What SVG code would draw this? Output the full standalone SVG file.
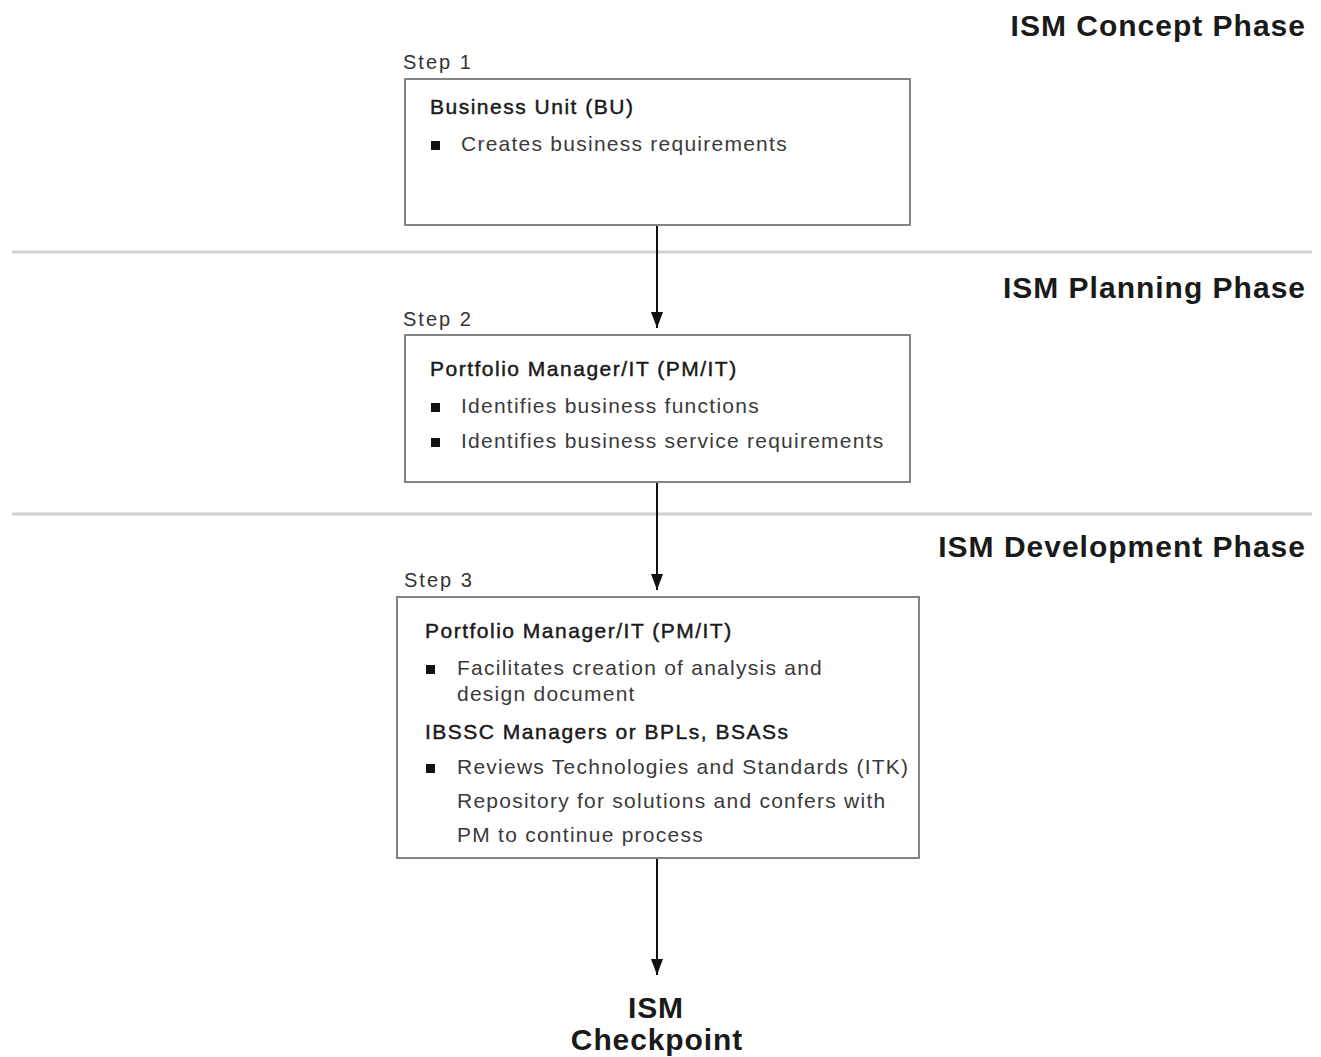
<svg xmlns="http://www.w3.org/2000/svg" width="1321" height="1057" viewBox="0 0 1321 1057">
<style>
.phase{font-family:"Liberation Sans",Arial,sans-serif;font-size:30px;font-weight:bold;fill:#1a1a1a;text-anchor:end;letter-spacing:1px}
.step{font-family:"Liberation Sans",Arial,sans-serif;font-size:20px;fill:#333;letter-spacing:2px}
.hd{font-family:"Liberation Sans",Arial,sans-serif;font-size:21px;fill:#1a1a1a;stroke:#1a1a1a;stroke-width:0.45;letter-spacing:1.5px}
.tx{font-family:"Liberation Sans",Arial,sans-serif;font-size:21px;fill:#3a3a3a;letter-spacing:1.25px}
.box{fill:#fff;stroke:#777;stroke-width:1.8}
.sep{stroke:#cfcfcf;stroke-width:3}
.conn{stroke:#111;stroke-width:2;fill:none}
.bul{fill:#111}
.chk{font-family:"Liberation Sans",Arial,sans-serif;font-size:30px;font-weight:bold;fill:#1a1a1a;text-anchor:middle;letter-spacing:0.9px}
</style>
<defs>
<marker id="arr" viewBox="0 0 16 12" refX="16" refY="6" markerWidth="16" markerHeight="12" markerUnits="userSpaceOnUse" orient="auto">
<path d="M0,0 L16,6 L0,12 Z" fill="#111"/>
</marker>
</defs>
<rect width="1321" height="1057" fill="#fff"/>
<g id="separators">
<line class="sep" x1="12" y1="252" x2="1312" y2="252"/>
<line class="sep" x1="12" y1="514" x2="1312" y2="514"/>
</g>
<g id="phases">
<text class="phase" x="1306" y="36">ISM Concept Phase</text>
<text class="phase" x="1306" y="298">ISM Planning Phase</text>
<text class="phase" x="1306" y="557">ISM Development Phase</text>
</g>
<g id="connectors">
<line class="conn" x1="657" y1="226" x2="657" y2="328" marker-end="url(#arr)"/>
<line class="conn" x1="657" y1="483" x2="657" y2="590" marker-end="url(#arr)"/>
<line class="conn" x1="657" y1="859" x2="657" y2="975" marker-end="url(#arr)"/>
</g>
<g id="step1">
<text class="step" x="403" y="69">Step 1</text>
<rect class="box" x="405" y="79" width="505" height="146"/>
<text class="hd" x="430" y="114">Business Unit (BU)</text>
<rect class="bul" x="431" y="141" width="9" height="9"/>
<text class="tx" x="461" y="151">Creates business requirements</text>
</g>
<g id="step2">
<text class="step" x="403" y="326">Step 2</text>
<rect class="box" x="405" y="335" width="505" height="147"/>
<text class="hd" x="430" y="376">Portfolio Manager/IT (PM/IT)</text>
<rect class="bul" x="431" y="403" width="9" height="9"/>
<text class="tx" x="461" y="413">Identifies business functions</text>
<rect class="bul" x="431" y="438" width="9" height="9"/>
<text class="tx" x="461" y="448">Identifies business service requirements</text>
</g>
<g id="step3">
<text class="step" x="404" y="587">Step 3</text>
<rect class="box" x="397" y="597" width="522" height="261"/>
<text class="hd" x="425" y="638">Portfolio Manager/IT (PM/IT)</text>
<rect class="bul" x="426" y="665" width="9" height="9"/>
<text class="tx" x="457" y="675">Facilitates creation of analysis and</text>
<text class="tx" x="457" y="701">design document</text>
<text class="hd" x="425" y="739">IBSSC Managers or BPLs, BSASs</text>
<rect class="bul" x="426" y="764" width="9" height="9"/>
<text class="tx" x="457" y="774">Reviews Technologies and Standards (ITK)</text>
<text class="tx" x="457" y="808">Repository for solutions and confers with</text>
<text class="tx" x="457" y="842">PM to continue process</text>
</g>
<g id="checkpoint">
<text class="chk" x="656" y="1018">ISM</text>
<text class="chk" x="657" y="1050">Checkpoint</text>
</g>
</svg>
